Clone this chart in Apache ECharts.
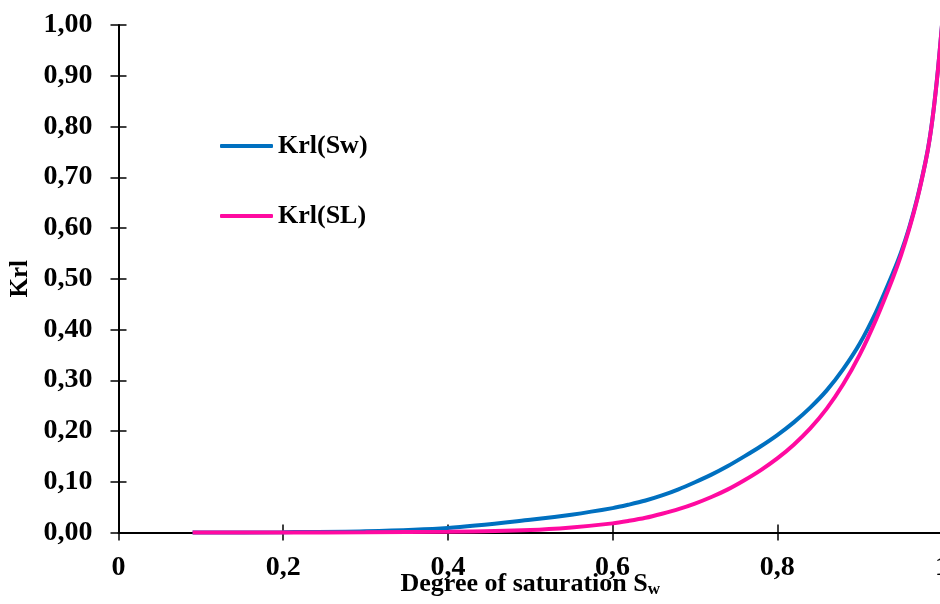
<!DOCTYPE html>
<html>
<head>
<meta charset="utf-8">
<script src="https://cdn.jsdelivr.net/npm/echarts@6/dist/echarts.min.js"></script>
<style>
html,body{margin:0;padding:0;background:#fff;}
#chart{width:940px;height:604px;}
</style>
</head>
<body>
<div id="chart"></div>
<script>
// Degree of saturation (x values)
const saturation = [0.09, 0.2, 0.3, 0.4, 0.5, 0.55, 0.6, 0.62, 0.64, 0.66, 0.68, 0.7, 0.72, 0.74, 0.76, 0.78, 0.8, 0.82, 0.84, 0.86, 0.88, 0.9, 0.92, 0.94, 0.95, 0.96, 0.97, 0.98, 0.985, 0.99, 0.995, 1.0];
// Krl(Sw)
const krlSw = [0, 0.0006, 0.0025, 0.009, 0.025, 0.035, 0.048, 0.055, 0.063, 0.073, 0.085, 0.099, 0.114, 0.131, 0.150, 0.170, 0.192, 0.217, 0.246, 0.280, 0.322, 0.372, 0.435, 0.51, 0.551, 0.6, 0.659, 0.731, 0.776, 0.836, 0.911, 1.0];
// Krl(SL)
const krlSL = [0, 0.0001, 0.0004, 0.0015, 0.005, 0.01, 0.018, 0.023, 0.029, 0.037, 0.046, 0.057, 0.070, 0.085, 0.103, 0.123, 0.146, 0.173, 0.205, 0.244, 0.292, 0.35, 0.42, 0.50, 0.545, 0.597, 0.657, 0.73, 0.775, 0.835, 0.91, 1.0];
// tick labels
const xTickValues = [0, 0.2, 0.4, 0.6, 0.8, 1];
const xTickLabels = ['0', '0,2', '0,4', '0,6', '0,8', '1'];
const yTickValues = [0, 0.1, 0.2, 0.3, 0.4, 0.5, 0.6, 0.7, 0.8, 0.9, 1.0];
const yTickLabels = ['0,00', '0,10', '0,20', '0,30', '0,40', '0,50', '0,60', '0,70', '0,80', '0,90', '1,00'];
const seriesNames = ['Krl(Sw)', 'Krl(SL)'];

const FONT = "'Liberation Serif', 'Times New Roman', serif";

function lookup(values, labels, v) {
  for (let i = 0; i < values.length; i++) {
    if (Math.abs(values[i] - v) < 1e-6) return labels[i];
  }
  return '';
}

const chart = echarts.init(document.getElementById('chart'), null, {renderer: 'canvas'});

const baseX = {
  type: 'value', min: 0, max: 1, interval: 0.2,
  splitLine: {show: false}
};
const baseY = {
  type: 'value', min: 0, max: 1, interval: 0.1,
  splitLine: {show: false}
};

chart.setOption({
  animation: false,
  backgroundColor: '#ffffff',
  textStyle: {fontFamily: FONT},
  grid: {left: 118.5, top: 25, width: 823.5, height: 507.5, containLabel: false, outerBoundsMode: 'none'},
  legend: {
    orient: 'vertical',
    left: 220,
    top: 131,
    padding: 0,
    icon: 'roundRect',
    itemWidth: 53,
    itemHeight: 4,
    itemGap: 40,
    data: seriesNames,
    textStyle: {fontFamily: FONT, fontWeight: 'bold', fontSize: 26, color: '#000', lineHeight: 30}
  },
  xAxis: [
    Object.assign({}, baseX, {
      position: 'bottom',
      name: '{t|Degree of saturation S}{s|w}',
      nameLocation: 'middle',
      nameGap: 37,
      nameMoveOverlap: false,
      nameTextStyle: {
        rich: {
          t: {fontFamily: FONT, fontWeight: 'bold', fontSize: 26, color: '#000'},
          s: {fontFamily: FONT, fontWeight: 'bold', fontSize: 17, color: '#000', padding: [12, 0, 0, 0]}
        }
      },
      axisLine: {show: true, onZero: false, lineStyle: {color: '#000', width: 2}},
      axisTick: {show: true, length: 8, lineStyle: {color: '#000', width: 1.5}},
      axisLabel: {
        margin: 21,
        fontFamily: FONT, fontWeight: 'bold', fontSize: 28, color: '#000',
        formatter: v => lookup(xTickValues, xTickLabels, v)
      }
    }),
    Object.assign({}, baseX, {
      position: 'bottom',
      axisLine: {show: false},
      axisTick: {show: true, inside: true, length: 8, lineStyle: {color: '#000', width: 1.5}},
      axisLabel: {show: false}
    })
  ],
  yAxis: [
    Object.assign({}, baseY, {
      position: 'left',
      name: 'Krl',
      nameLocation: 'middle',
      nameGap: 85,
      nameMoveOverlap: false,
      nameRotate: 90,
      nameTextStyle: {fontFamily: FONT, fontWeight: 'bold', fontSize: 25, color: '#000'},
      axisLine: {show: true, onZero: false, lineStyle: {color: '#000', width: 2}},
      axisTick: {show: true, length: 8, lineStyle: {color: '#000', width: 1.5}},
      axisLabel: {
        margin: 26,
        fontFamily: FONT, fontWeight: 'bold', fontSize: 28, color: '#000',
        formatter: v => lookup(yTickValues, yTickLabels, v)
      }
    }),
    Object.assign({}, baseY, {
      position: 'left',
      axisLine: {show: false},
      axisTick: {show: true, inside: true, length: 8, lineStyle: {color: '#000', width: 1.5}},
      axisLabel: {show: false}
    })
  ],
  series: [
    {
      name: seriesNames[0],
      type: 'line',
      xAxisIndex: 0, yAxisIndex: 0,
      symbol: 'none',
      smooth: 0.3,
      clip: false,
      lineStyle: {color: '#0070C0', width: 4},
      itemStyle: {color: '#0070C0'},
      data: saturation.map((s, i) => [s, krlSw[i]])
    },
    {
      name: seriesNames[1],
      type: 'line',
      xAxisIndex: 0, yAxisIndex: 0,
      symbol: 'none',
      smooth: 0.3,
      clip: false,
      lineStyle: {color: '#FF0AA0', width: 4},
      itemStyle: {color: '#FF0AA0'},
      data: saturation.map((s, i) => [s, krlSL[i]])
    }
  ]
});
</script>
</body>
</html>
